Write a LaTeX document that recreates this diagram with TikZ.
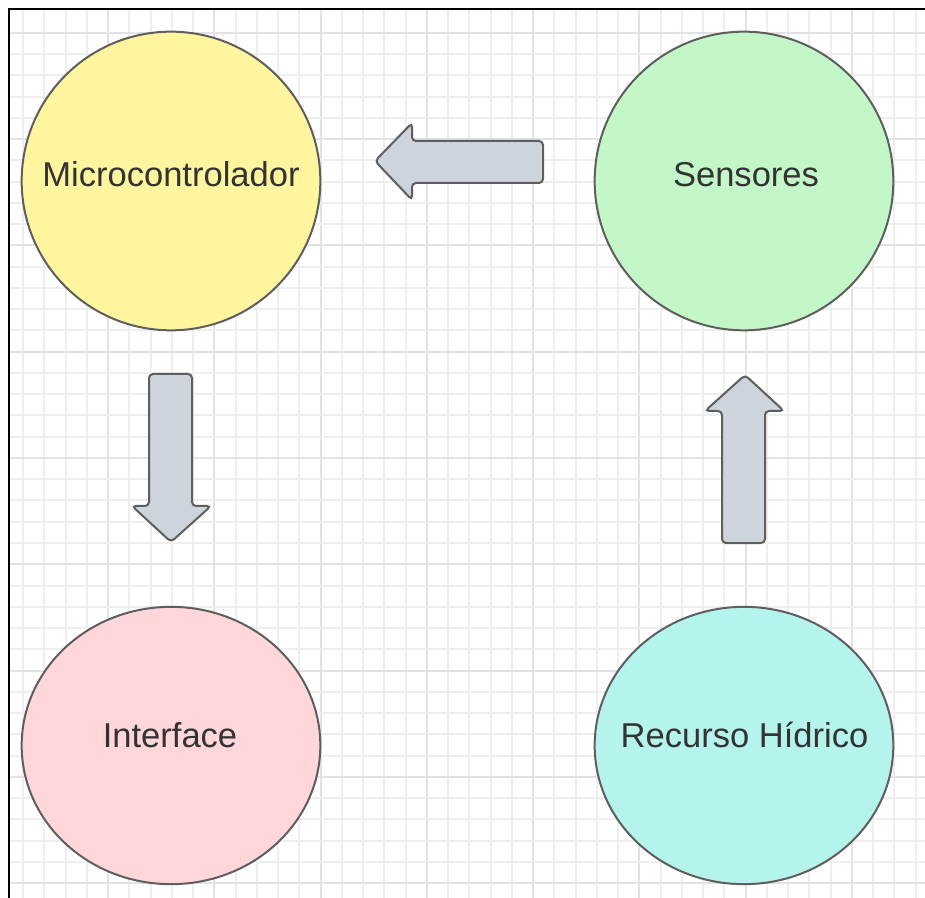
\documentclass[tikz,border=0pt]{standalone}
\usepackage{fontspec}
\setmainfont{Liberation Sans}
\usetikzlibrary{shapes.geometric}
\definecolor{gridminor}{HTML}{EEEEEE}
\definecolor{gridmajor}{HTML}{E2E2E2}
\definecolor{edgegray}{HTML}{5E5E5E}
\definecolor{txtgray}{HTML}{333333}
\definecolor{fillyellow}{HTML}{FFF59F}
\definecolor{fillgreen}{HTML}{C3F7C8}
\definecolor{fillpink}{HTML}{FFD6D9}
\definecolor{fillcyan}{HTML}{B5F4EC}
\definecolor{fillarrow}{HTML}{CED4DC}
\tikzset{
  blob/.style={draw=edgegray, line width=1.5pt, inner sep=0pt},
  roundblob/.style={blob, circle, minimum size=224pt},
  flatblob/.style={blob, ellipse, minimum width=224pt, minimum height=208pt},
  lbl/.style={text=txtgray, font=\fontsize{25.9}{30}\selectfont, anchor=base, inner sep=0pt},
  blockarrow/.style={draw=edgegray, fill=fillarrow, line width=1.5pt, rounded corners=3pt},
  minorline/.style={draw=gridminor, line width=1.5pt},
  majorline/.style={draw=gridmajor, line width=1.5pt}
}
\begin{document}
\begin{tikzpicture}[x=0.75pt,y=-0.75pt]
  % page and grid
  \fill[white] (0,0) rectangle (925,898);
  \useasboundingbox (0,0) rectangle (925,898);
  \foreach \j in {0,...,42} {
    \pgfmathsetmacro\xx{23+21.25*\j}
    \pgfmathtruncatemacro\m{mod(\j+1,5)}
    \ifnum\m=0 \draw[majorline] (\xx,9) -- (\xx,898);
    \else \draw[minorline] (\xx,9) -- (\xx,898); \fi
  }
  \foreach \j in {0,...,41} {
    \pgfmathsetmacro\yy{33+21.25*\j}
    \pgfmathtruncatemacro\m{mod(\j,5)}
    \ifnum\m=0 \draw[majorline] (8,\yy) -- (925,\yy);
    \else \draw[minorline] (8,\yy) -- (925,\yy); \fi
  }
  % frame
  \draw[black, line width=1.5pt] (8.5,898) -- (8.5,9.5) -- (925,9.5);

  % blocks
  \node[roundblob, fill=fillyellow] (mcu) at (171,181) {};
  \node[roundblob, fill=fillgreen] (sens) at (744,181) {};
  \node[flatblob, fill=fillpink] (ui) at (171,745.5) {};
  \node[flatblob, fill=fillcyan] (water) at (744,745.5) {};

  \node[lbl] (mcutxt) at (171,187) {Microcontrolador};
  \node[lbl] (senstxt) at (746,187) {Sensores};
  \node[lbl] (uitxt) at (170,747) {Interface};
  \node[lbl] (watertxt) at (744.5,747) {Recurso Hídrico};

  % block arrows
  \draw[blockarrow] (375,161) -- (412,123) -- (412,141) -- (543,141)
    -- (543,183) -- (412,183) -- (412,200) -- cycle;
  \draw[blockarrow] (171,542) -- (132,506) -- (149,506) -- (149,374)
    -- (192,374) -- (192,506) -- (211,506) -- cycle;
  \draw[blockarrow] (745,375) -- (784,411) -- (765,411) -- (765,543)
    -- (722,543) -- (722,411) -- (705,411) -- cycle;
\end{tikzpicture}
\end{document}
